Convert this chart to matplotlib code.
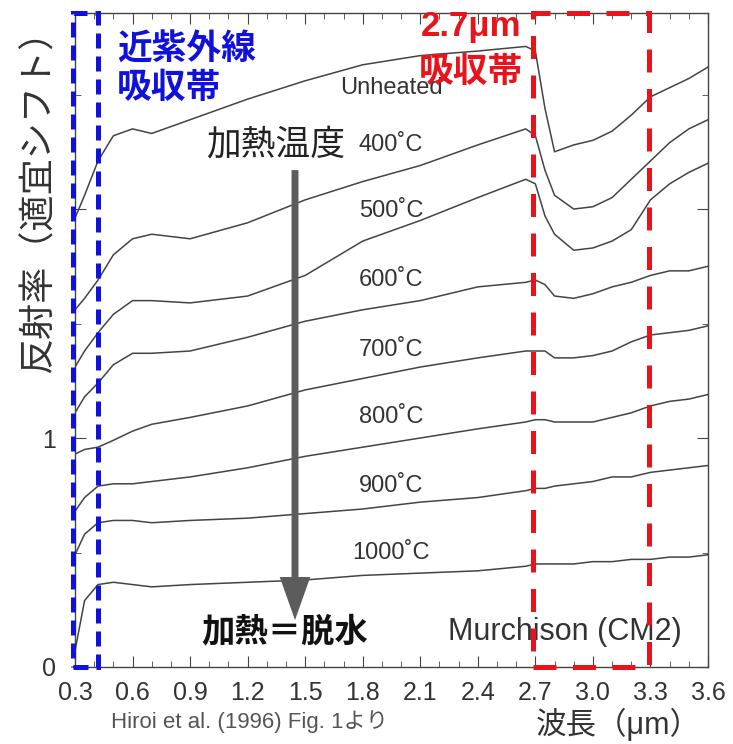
import matplotlib
matplotlib.use("Agg")
import matplotlib.pyplot as plt
from matplotlib.patches import Rectangle

plt.rcParams["font.family"] = ["Liberation Sans", "Noto Sans CJK JP", "DejaVu Sans"]

# 波長 (μm)
wl = [0.30, 0.35, 0.42, 0.5, 0.6, 0.7, 0.9, 1.2, 1.5, 1.8, 2.1, 2.4,
      2.65, 2.7, 2.75, 2.8, 2.9, 3.0, 3.1, 3.2, 3.3, 3.4, 3.5, 3.6]

# 反射率（適宜シフト）
unheated = [1.96, 2.06, 2.21, 2.32, 2.35, 2.33, 2.39, 2.48, 2.56, 2.63, 2.67, 2.69,
            2.71, 2.69, 2.44, 2.25, 2.28, 2.30, 2.34, 2.41, 2.49, 2.53, 2.57, 2.62]
t400 = [1.56, 1.61, 1.69, 1.80, 1.87, 1.89, 1.87, 1.94, 2.04, 2.12, 2.19, 2.28,
        2.35, 2.32, 2.17, 2.06, 2.00, 2.01, 2.05, 2.13, 2.21, 2.29, 2.35, 2.39]
t500 = [1.31, 1.38, 1.46, 1.54, 1.60, 1.60, 1.59, 1.62, 1.71, 1.86, 1.95, 2.05,
        2.13, 2.11, 1.97, 1.89, 1.82, 1.83, 1.86, 1.91, 2.04, 2.11, 2.16, 2.20]
t600 = [1.11, 1.18, 1.24, 1.32, 1.37, 1.37, 1.38, 1.44, 1.51, 1.56, 1.60, 1.66,
        1.68, 1.69, 1.67, 1.62, 1.61, 1.63, 1.66, 1.68, 1.71, 1.73, 1.73, 1.75]
t700 = [0.93, 0.95, 0.96, 0.99, 1.03, 1.06, 1.09, 1.14, 1.21, 1.26, 1.31, 1.35,
        1.38, 1.38, 1.38, 1.35, 1.35, 1.36, 1.38, 1.42, 1.45, 1.46, 1.47, 1.49]
t800 = [0.68, 0.74, 0.79, 0.80, 0.80, 0.81, 0.83, 0.87, 0.92, 0.96, 1.00, 1.04,
        1.07, 1.08, 1.08, 1.07, 1.07, 1.07, 1.09, 1.11, 1.14, 1.16, 1.17, 1.19]
t900 = [0.49, 0.58, 0.63, 0.64, 0.64, 0.63, 0.64, 0.65, 0.67, 0.69, 0.72, 0.74,
        0.77, 0.78, 0.78, 0.79, 0.80, 0.81, 0.83, 0.83, 0.85, 0.86, 0.87, 0.88]
t1000 = [0.07, 0.29, 0.36, 0.37, 0.36, 0.35, 0.36, 0.37, 0.38, 0.40, 0.41, 0.42,
         0.44, 0.45, 0.45, 0.45, 0.45, 0.46, 0.46, 0.47, 0.47, 0.48, 0.48, 0.49]

series = [unheated, t400, t500, t600, t700, t800, t900, t1000]
labels = ["Unheated", "400˚C", "500˚C", "600˚C", "700˚C", "800˚C", "900˚C", "1000˚C"]
label_y = [2.53, 2.28, 1.99, 1.69, 1.385, 1.09, 0.79, 0.50]

xticks = [0.3, 0.6, 0.9, 1.2, 1.5, 1.8, 2.1, 2.4, 2.7, 3.0, 3.3, 3.6]

GRAY = "#444444"

fig = plt.figure(figsize=(7.33, 7.44), dpi=100)
ax = fig.add_axes([0.1023, 0.1035, 0.8636, 0.8790])

for ys in series:
    ax.plot(wl, ys, color=GRAY, lw=1.1)

for lab, y in zip(labels, label_y):
    ax.text(1.948, y, lab, fontsize=17, ha="center", va="center", color="#333333")

ax.set_xlim(0.3, 3.6)
ax.set_ylim(0, 2.856)
ax.set_xticks(xticks)
ax.set_xticklabels([f"{v:.1f}" for v in xticks], fontsize=18, color="#333333")
ax.set_xticks([v / 10 for v in range(3, 37)], minor=True)
ax.set_yticks([0, 1, 2])
ax.set_yticklabels(["0", "1", ""], fontsize=18, color="#333333")
ax.set_yticks([0.5, 1.5, 2.5], minor=True)
ax.tick_params(which="both", direction="in", top=True, right=True, color=GRAY)
ax.tick_params(which="major", length=8, pad=10)
ax.tick_params(which="minor", length=4)
ax.tick_params(axis="y", pad=14)
for sp in ax.spines.values():
    sp.set_color(GRAY)
    sp.set_linewidth(1.0)

# 吸収帯の枠
ax.add_patch(Rectangle((0.29, 0), 0.13, 2.856, fill=False, edgecolor="#1111dd",
                       lw=3.6, linestyle=(0, (3.0, 1.6)), clip_on=False, zorder=5))
ax.add_patch(Rectangle((2.69, 0), 0.60, 2.856, fill=False, edgecolor="#e8141c",
                       lw=3.6, linestyle=(0, (4.6, 3.3)), clip_on=False, zorder=5))

ax.text(0.519, 2.694, "近紫外線", fontsize=25, fontweight="bold", color="#1111dd",
        ha="left", va="center", zorder=6)
ax.text(0.519, 2.528, "吸収帯", fontsize=25, fontweight="bold", color="#1111dd",
        ha="left", va="center", zorder=6)
ax.text(2.365, 2.795, "2.7μm", fontsize=25, fontweight="bold", color="#e8141c",
        ha="center", va="center", zorder=6)
ax.text(2.365, 2.598, "吸収帯", fontsize=25, fontweight="bold", color="#e8141c",
        ha="center", va="center", zorder=6)

# 加熱の矢印
ax.annotate("", xy=(1.447, 0.205), xytext=(1.447, 2.17),
            arrowprops=dict(width=5, headwidth=22, headlength=31, shrink=0,
                            color="#5c5c5c", lw=0))
ax.text(1.348, 2.279, "加熱温度", fontsize=25, ha="center", va="center", color="#222222")
ax.text(1.395, 0.153, "加熱＝脱水", fontsize=24, fontweight="bold", ha="center",
        va="center", color="#111111")
ax.text(2.855, 0.153, "Murchison (CM2)", fontsize=22, ha="center", va="center",
        color="#333333")

fig.text(0.053, 0.742, "反射率（適宜シフト）", fontsize=26, rotation=90,
         ha="center", va="center", color="#333333")
fig.text(0.843, 0.026, "波長（μm）", fontsize=22, ha="center", va="center",
         color="#333333")
fig.text(0.34, 0.030, "Hiroi et al. (1996) Fig. 1より", fontsize=16, ha="center",
         va="center", color="#555555")

fig.savefig("out.png", dpi=100, facecolor="white")
